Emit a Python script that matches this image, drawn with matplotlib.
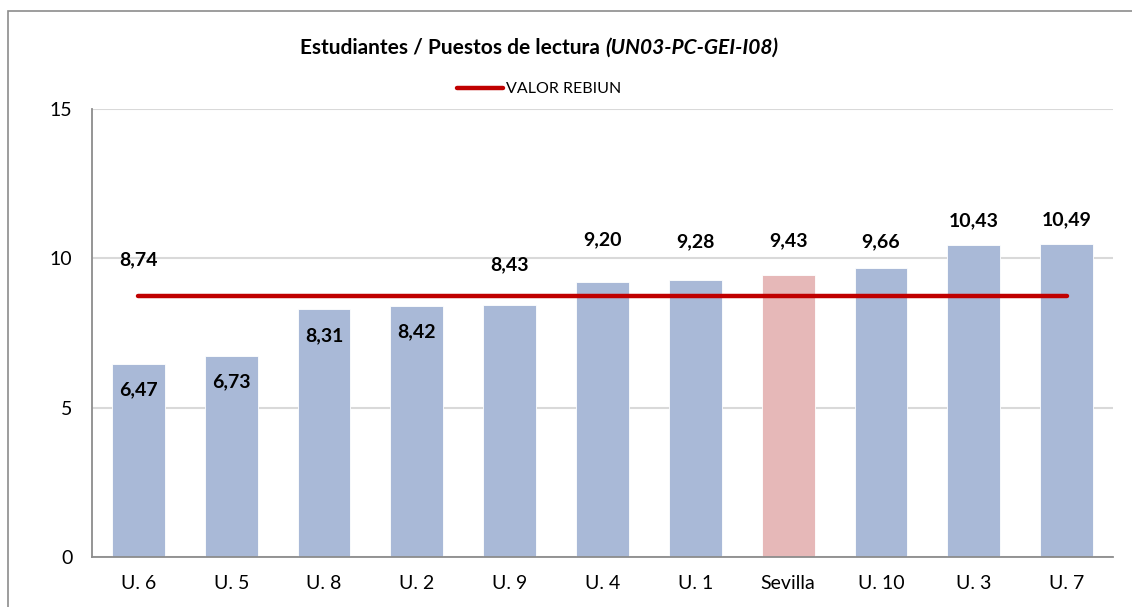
import matplotlib.pyplot as plt
from matplotlib.patches import Rectangle

plt.rcParams["font.family"] = ["Lato", "DejaVu Sans"]

categories = ["U. 6", "U. 5", "U. 8", "U. 2", "U. 9", "U. 4", "U. 1", "Sevilla", "U. 10", "U. 3", "U. 7"]
values = [6.47, 6.73, 8.31, 8.42, 8.43, 9.20, 9.28, 9.43, 9.66, 10.43, 10.49]
rebiun = 8.74
highlight = "Sevilla"
# vertical offset (px) of each value label from the bar top
label_offsets = [-26, -26, -27, -26, 40, 42, 38, 35, 27, 25, 24]

fig = plt.figure(figsize=(11.32, 6.07), dpi=100)
W, H = 1132, 607
ax = fig.add_axes([92 / W, 1 - 557 / H, (1113 - 92) / W, (557 - 109) / H])

# outer chart border
fig.patches.append(Rectangle((8 / W, -0.1), 1.2, 1 - 11 / H + 0.1,
                             transform=fig.transFigure, fill=False,
                             edgecolor="#8c8c8c", linewidth=1.2))

x = list(range(len(categories)))
colors = ["#E6B8B8" if c == highlight else "#A9B9D7" for c in categories]
ax.bar(x, values, width=0.57, color=colors, edgecolor="white", linewidth=0.6, zorder=2)

ax.plot([x[0], x[-1]], [rebiun, rebiun], color="#C00000", linewidth=3.2,
        solid_capstyle="round", zorder=3, label="VALOR REBIUN")

for xi, v, off in zip(x, values, label_offsets):
    ax.annotate(f"{v:.2f}".replace(".", ","), (xi, v), xytext=(0, off * 0.72),
                textcoords="offset points", ha="center", va="center",
                fontsize=14, fontweight="bold", color="black", zorder=4)
ax.annotate(f"{rebiun:.2f}".replace(".", ","), (x[0], rebiun), xytext=(0, 36 * 0.72),
            textcoords="offset points", ha="center", va="center",
            fontsize=14, fontweight="bold", color="black", zorder=4)

ax.set_xlim(-0.5, len(categories) - 0.5)
ax.set_ylim(0, 15)
ax.set_yticks([0, 5, 10, 15])
ax.set_xticks(x)
ax.set_xticklabels(categories)
ax.tick_params(axis="both", length=0, labelsize=14, colors="black")
ax.tick_params(axis="y", pad=14)
ax.tick_params(axis="x", pad=13)
ax.grid(axis="y", color="#d9d9d9", linewidth=1.5, zorder=0)
ax.set_axisbelow(True)
for s in ["top", "right"]:
    ax.spines[s].set_visible(False)
ax.spines["left"].set_color("#8c8c8c")
ax.spines["bottom"].set_color("#8c8c8c")
ax.spines["left"].set_linewidth(1.3)
ax.spines["bottom"].set_linewidth(1.3)

split_x = 605 / W
fig.text(split_x, 1 - 48 / H, "Estudiantes / Puestos de lectura ", ha="right",
         va="center", fontsize=15, fontweight="bold")
fig.text(split_x, 1 - 48 / H, "(UN03-PC-GEI-I08)", ha="left",
         va="center", fontsize=15, fontweight="bold", style="italic")

leg = ax.legend(loc="center", bbox_to_anchor=(539 / W, 1 - 89 / H),
                bbox_transform=fig.transFigure, frameon=False, fontsize=11.5,
                handlelength=2.9, handletextpad=0.2)

fig.savefig("out.png", dpi=100)
